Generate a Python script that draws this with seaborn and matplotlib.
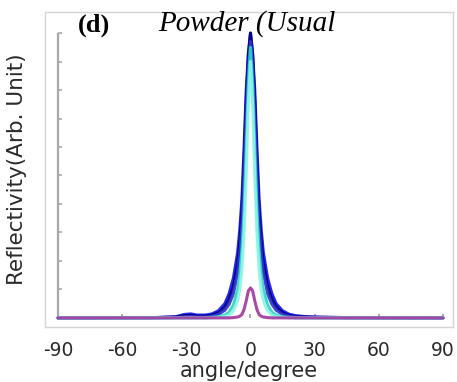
import matplotlib
matplotlib.use("Agg")
import matplotlib.pyplot as plt
import numpy as np
import pandas as pd
import seaborn as sns

# angle grid (degree) and reflectivity
angles = [-90, -45, -35, -31, -28, -25, -21, -18, -15, -12, -10, -8, -6, -5, -4, -3, -2, -1,
          0, 1, 2, 3, 4, 5, 6, 8, 10, 12, 15, 18, 21, 25, 30, 45, 90]

blue_wide = [0, 0.001, 0.004, 0.012, 0.014, 0.010, 0.010, 0.014, 0.025, 0.05, 0.085, 0.14, 0.23, 0.31, 0.42, 0.60, 0.80, 0.93,
             1.00, 0.93, 0.80, 0.60, 0.42, 0.31, 0.23, 0.14, 0.085, 0.05, 0.025, 0.013, 0.008, 0.005, 0.003, 0.001, 0]
navy = [0, 0.001, 0.003, 0.008, 0.009, 0.006, 0.006, 0.010, 0.018, 0.038, 0.065, 0.11, 0.19, 0.27, 0.38, 0.55, 0.76, 0.92,
        1.00, 0.92, 0.76, 0.55, 0.38, 0.27, 0.19, 0.11, 0.065, 0.038, 0.018, 0.009, 0.005, 0.003, 0.002, 0.001, 0]
blue_mid = [0, 0, 0.001, 0.004, 0.005, 0.003, 0.003, 0.006, 0.012, 0.027, 0.048, 0.085, 0.16, 0.23, 0.33, 0.50, 0.70, 0.88,
            0.97, 0.88, 0.70, 0.50, 0.33, 0.23, 0.16, 0.085, 0.048, 0.027, 0.012, 0.006, 0.003, 0.001, 0.001, 0, 0]
turquoise = [0, 0, 0, 0, 0, 0, 0, 0.002, 0.004, 0.01, 0.02, 0.045, 0.10, 0.15, 0.24, 0.38, 0.60, 0.82,
             0.95, 0.82, 0.60, 0.38, 0.24, 0.15, 0.10, 0.045, 0.02, 0.01, 0.004, 0.002, 0, 0, 0, 0, 0]
aqua = [0, 0, 0, 0, 0, 0, 0, 0, 0.002, 0.005, 0.01, 0.025, 0.06, 0.10, 0.17, 0.30, 0.50, 0.75,
        0.90, 0.75, 0.50, 0.30, 0.17, 0.10, 0.06, 0.025, 0.01, 0.005, 0.002, 0, 0, 0, 0, 0, 0]
purple = [0, 0, 0, 0, 0, 0, 0, 0, 0, 0, 0, 0.001, 0.003, 0.006, 0.012, 0.03, 0.06, 0.095,
          0.105, 0.095, 0.06, 0.03, 0.012, 0.006, 0.003, 0.001, 0, 0, 0, 0, 0, 0, 0, 0, 0]

series = {"blue_wide": blue_wide, "navy": navy, "blue_mid": blue_mid,
          "turquoise": turquoise, "aqua": aqua, "purple": purple}
palette = {"blue_wide": "#1414f0", "navy": "#000080", "blue_mid": "#3333cc",
           "turquoise": "#2ad4c4", "aqua": "#8ff5e6", "purple": "#a33aa0"}

xticks = [-90, -60, -30, 0, 30, 60, 90]
yticks = [0, 0.1, 0.2, 0.3, 0.4, 0.5, 0.6, 0.7, 0.8, 0.9, 1.0]

df = pd.concat([pd.DataFrame({"angle": angles, "R": v, "s": k}) for k, v in series.items()])

sns.set_theme(style="white")
plt.rcParams["font.family"] = ["DejaVu Sans"]

fig = plt.figure(figsize=(4.57, 3.82), dpi=100)
ax = fig.add_axes([45 / 457, 1 - 327 / 382, 408 / 457, 315 / 382])

sns.lineplot(data=df, x="angle", y="R", hue="s", palette=palette, linewidth=2.2,
             alpha=0.92, legend=False, ax=ax, sort=False)

# inner axis drawn inside the frame
ax.vlines(xticks[0], yticks[0], yticks[-1], color="#a8a8a8", lw=1.6, zorder=0)
ax.hlines(yticks, xticks[0], xticks[0] + 2, color="#a8a8a8", lw=1.2, zorder=0)
ax.vlines(xticks, 0, 0.015, color="#a8a8a8", lw=1.4, zorder=0)

ax.set_xlim(-96.1, 94.7)
ax.set_ylim(-0.032, 1.074)
ax.set_xticks(xticks)
ax.set_xticklabels([str(t) for t in xticks], fontsize=13.5, color="#2a2a2a")
ax.set_yticks([])
ax.tick_params(axis="x", length=0, pad=10)
for sp in ax.spines.values():
    sp.set_color("#d4d4d4")
    sp.set_linewidth(1.0)

ax.set_xlabel("angle/degree", fontsize=15, labelpad=1, color="#2a2a2a")
ax.set_ylabel("Reflectivity(Arb. Unit)", fontsize=15.5, labelpad=13, color="#2a2a2a")

ax.text(0.081, 0.995, "(d)", transform=ax.transAxes, ha="left", va="top",
        fontsize=19, fontweight="bold", family="Liberation Serif", color="black")
ax.text(0.277, 1.005, "Powder (Usual", transform=ax.transAxes, ha="left", va="top",
        fontsize=21, fontstyle="italic", family="Liberation Serif", color="black")

fig.savefig("out.png", dpi=100)
